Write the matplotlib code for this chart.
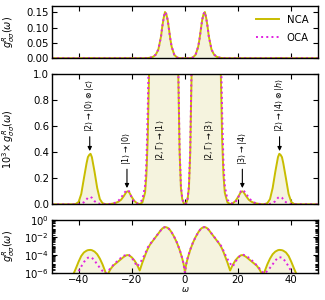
import numpy as np
import matplotlib
matplotlib.use("Agg")
import matplotlib.pyplot as plt
from matplotlib.ticker import LogLocator, NullFormatter, FixedLocator

# frequency grid
omega = [-50, -48, -46, -44, -42, -41, -40, -39, -38, -37, -36.5, -36, -35.5, -35, -34, -33, -32,
         -31, -30, -29.5, -29, -28, -27, -26, -25, -24, -23, -22, -21.5, -21, -20, -19, -18, -17,
         -16, -15, -14.5, -14, -13.5, -13, -12, -11, -10, -9, -8.5, -8, -7.5, -7, -6.5, -6, -5.5,
         -5, -4, -3, -2.5, -2, -1.5, -1, -0.5, 0,
         0.5, 1, 1.5, 2, 2.5, 3, 4, 5, 5.5, 6, 6.5, 7, 7.5, 8, 8.5, 9, 10, 11, 12, 13, 13.5, 14,
         14.5, 15, 16, 17, 18, 19, 20, 21, 21.5, 22, 23, 24, 25, 26, 27, 28, 29, 29.5, 30, 31, 32,
         33, 34, 35, 35.5, 36, 36.5, 37, 38, 39, 40, 41, 42, 44, 46, 48, 50]

# log10 of g^R for NCA
nca_log10 = [-9.6, -8.9, -8.1, -7.3, -6.2, -5.5, -4.75, -4.1, -3.7, -3.5, -3.44, -3.42, -3.41, -3.44,
             -3.6, -3.9, -4.4, -5.05, -5.85, -6.4, -6.15, -5.6, -5.2, -4.95, -4.7, -4.45, -4.2,
             -4.02, -4.0, -4.03, -4.25, -4.6, -5.1, -5.75, -4.85, -4.05, -3.65, -3.3, -3.0, -2.75,
             -2.35, -1.95, -1.55, -1.15, -0.98, -0.88, -0.82, -0.84, -0.9, -1.02, -1.2, -1.42,
             -1.95, -2.6, -3.0, -3.4, -3.9, -4.4, -5.0, -5.9,
             -5.0, -4.4, -3.9, -3.4, -3.0, -2.6, -1.95, -1.42, -1.2, -1.02, -0.9, -0.84, -0.82,
             -0.88, -0.98, -1.15, -1.55, -1.95, -2.35, -2.75, -3.0, -3.3, -3.65, -4.05, -4.85,
             -5.75, -5.1, -4.6, -4.25, -4.03, -4.0, -4.02, -4.2, -4.45, -4.7, -4.95, -5.2, -5.6,
             -6.15, -6.4, -5.85, -5.05, -4.4, -3.9, -3.6, -3.44, -3.41, -3.42, -3.44, -3.5, -3.7,
             -4.1, -4.75, -5.5, -6.2, -7.3, -8.1, -8.9, -9.6]

# log10 of g^R for OCA
oca_log10 = [-10.2, -9.4, -8.5, -7.6, -6.75, -6.3, -5.85, -5.3, -4.8, -4.42, -4.3, -4.26, -4.25,
             -4.3, -4.62, -5.05, -5.45, -5.8, -6.1, -6.0, -5.85, -5.5, -5.15, -4.85, -4.55, -4.3,
             -4.08, -3.97, -3.96, -4.0, -4.3, -4.75, -5.3, -4.95, -4.45, -3.85, -3.5, -3.15, -2.9,
             -2.7, -2.32, -1.93, -1.54, -1.15, -0.98, -0.88, -0.82, -0.84, -0.9, -1.02, -1.2,
             -1.42, -1.95, -2.58, -2.97, -3.37, -3.85, -4.35, -5.0, -6.0,
             -5.0, -4.35, -3.85, -3.37, -2.97, -2.58, -1.95, -1.42, -1.2, -1.02, -0.9, -0.84,
             -0.82, -0.88, -0.98, -1.15, -1.54, -1.93, -2.32, -2.7, -2.9, -3.15, -3.5, -3.85,
             -4.45, -4.95, -5.3, -4.75, -4.3, -4.0, -3.96, -3.97, -4.08, -4.3, -4.55, -4.85,
             -5.15, -5.5, -5.85, -6.0, -6.1, -5.8, -5.45, -5.05, -4.62, -4.3, -4.25, -4.26, -4.3,
             -4.42, -4.8, -5.3, -5.85, -6.3, -6.75, -7.6, -8.5, -9.4, -10.2]

# annotations with arrows
ann_x = [-35.8, -21.8, 21.6, 35.6]
ann_text_y = [0.56, 0.30, 0.30, 0.56]
ann_arrow_from = [0.52, 0.27, 0.27, 0.52]
ann_arrow_to = [0.41, 0.125, 0.125, 0.41]
ann_labels = [r"$|2\rangle\to|0\rangle\otimes|c\rangle$", r"$|1\rangle\to|0\rangle$",
              r"$|3\rangle\to|4\rangle$", r"$|2\rangle\to|4\rangle\otimes|h\rangle$"]
# annotations inside the main peaks
mid_x = [-9.0, 9.2]
mid_y = [0.49, 0.49]
mid_labels = [r"$|2,\Gamma\rangle\to|1\rangle$", r"$|2,\Gamma\rangle\to|3\rangle$"]

w = np.array(omega)
g_nca = 10.0 ** np.array(nca_log10)
g_oca = 10.0 ** np.array(oca_log10)

c_nca = "#c8bd00"
c_oca = "#e020e0"
c_fill = "#f5f3de"
fs = 7.3
fl = 7.0

plt.rcParams["font.family"] = ["DejaVu Sans"]
plt.rcParams["mathtext.fontset"] = "dejavusans"

fig = plt.figure(figsize=(3.25, 3.0), dpi=100)
L, R = 0.160, 0.978
ax1 = fig.add_axes([L, 0.806, R - L, 0.175])
ax2 = fig.add_axes([L, 0.319, R - L, 0.433])
ax3 = fig.add_axes([L, 0.091, R - L, 0.176])

# top panel
ax1.fill_between(w, 0, g_nca, color=c_fill, lw=0)
ax1.plot(w, g_nca, color=c_nca, lw=1.4, label="NCA")
ax1.plot(w, g_oca, color=c_oca, lw=1.4, ls=":", label="OCA")
ax1.set_ylim(0, 0.172)
ax1.set_yticks([0.0, 0.05, 0.10, 0.15])
ax1.set_yticklabels(["0.00", "0.05", "0.10", "0.15"])
ax1.set_ylabel(r"$g^R_{\sigma\sigma}(\omega)$", fontsize=fl)
leg = ax1.legend(loc="upper right", frameon=False, fontsize=fs, handlelength=2.2,
                 borderaxespad=0.5, labelspacing=0.8)

# middle panel
ax2.fill_between(w, 0, 1e3 * g_nca, color=c_fill, lw=0)
ax2.plot(w, 1e3 * g_nca, color=c_nca, lw=1.4)
ax2.plot(w, 1e3 * g_oca, color=c_oca, lw=1.4, ls=":")
ax2.set_ylim(0, 1.0)
ax2.set_yticks([0.0, 0.2, 0.4, 0.6, 0.8, 1.0])
ax2.set_ylabel(r"$10^3\!\times g^R_{\sigma\sigma}(\omega)$", fontsize=fl)
for x, ty, af, at, lab in zip(ann_x, ann_text_y, ann_arrow_from, ann_arrow_to, ann_labels):
    ax2.text(x, ty, lab, rotation=90, ha="center", va="bottom", fontsize=5.8)
    ax2.annotate("", xy=(x, at), xytext=(x, af),
                 arrowprops=dict(arrowstyle="-|>", color="black", lw=0.8,
                                 mutation_scale=6, shrinkA=0, shrinkB=0))
for x, y, lab in zip(mid_x, mid_y, mid_labels):
    ax2.text(x, y, lab, rotation=90, ha="center", va="center", fontsize=5.8)

# bottom panel
ax3.fill_between(w, 1e-9, g_nca, color=c_fill, lw=0)
ax3.plot(w, g_nca, color=c_nca, lw=1.4)
ax3.plot(w, g_oca, color=c_oca, lw=1.4, ls=":")
ax3.set_yscale("log")
ax3.set_ylim(1e-6, 1.0)
ax3.yaxis.set_major_locator(FixedLocator([1e-6, 1e-4, 1e-2, 1e0]))
ax3.yaxis.set_minor_locator(LogLocator(base=10, subs=np.arange(1, 10), numticks=20))
ax3.yaxis.set_minor_formatter(NullFormatter())
ax3.set_ylabel(r"$g^R_{\sigma\sigma}(\omega)$", fontsize=fl)
ax3.set_xlabel(r"$\omega$", fontsize=6, labelpad=0)

for ax in (ax1, ax2, ax3):
    ax.set_xlim(-50, 50)
    ax.set_xticks([-40, -20, 0, 20, 40])
    ax.tick_params(direction="in", top=True, right=True, labelsize=fs, length=3.5, width=0.8,
                   pad=2)
    ax.tick_params(which="minor", direction="in", right=True, left=True, length=2, width=0.6)
    for s in ax.spines.values():
        s.set_linewidth(1.0)
    ax.yaxis.set_label_coords(-0.13, 0.5)
ax1.tick_params(labelbottom=False)
ax2.tick_params(labelbottom=False)

fig.savefig("out.png", dpi=100)
